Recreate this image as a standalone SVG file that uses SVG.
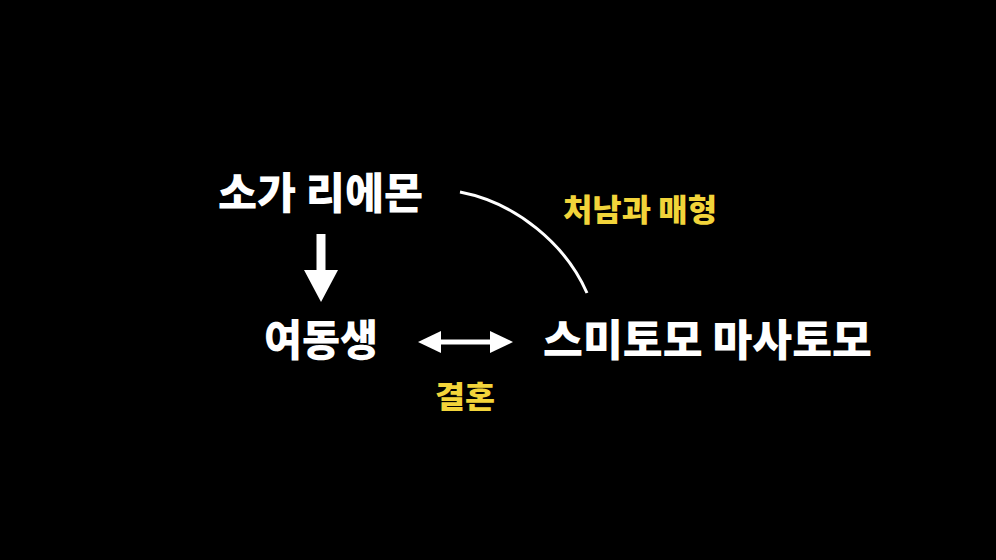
<svg xmlns="http://www.w3.org/2000/svg" width="996" height="560" viewBox="0 0 996 560">
<style>
.t{font-family:"Noto Sans CJK KR","Noto Sans",sans-serif;font-weight:900;}
.w{fill:#ffffff;font-size:43px;}
.y{fill:#f2d43a;font-size:31px;}
.ln{stroke:#ffffff;fill:none;}
</style>
<rect width="996" height="560" fill="#000000"/>
<g id="connectors">
<path d="M321,234 L321,272" stroke="#ffffff" stroke-width="9"/>
<path d="M304,270 L338,270 L321,302 Z" fill="#ffffff"/>
<path d="M436,342 L496,342" stroke="#ffffff" stroke-width="5"/>
<path d="M418,342 L441,331 L441,353 Z" fill="#ffffff"/>
<path d="M513,342 L490,331 L490,353 Z" fill="#ffffff"/>
<path class="ln" d="M460,192 C517,203 566,245 587,293" stroke-width="3"/>
</g>
<g id="node-soga"><text class="t w" x="218" y="209" textLength="205" lengthAdjust="spacingAndGlyphs">소가 리에몬</text></g>
<g id="node-sister"><text class="t w" x="264" y="356" textLength="114" lengthAdjust="spacingAndGlyphs">여동생</text></g>
<g id="node-sumitomo"><text class="t w" x="543" y="356" textLength="329" lengthAdjust="spacingAndGlyphs">스미토모 마사토모</text></g>
<g id="label-inlaw"><text class="t y" x="563" y="221" textLength="154" lengthAdjust="spacingAndGlyphs">처남과 매형</text></g>
<g id="label-marriage"><text class="t y" x="435" y="408" textLength="60" lengthAdjust="spacingAndGlyphs">결혼</text></g>
</svg>
